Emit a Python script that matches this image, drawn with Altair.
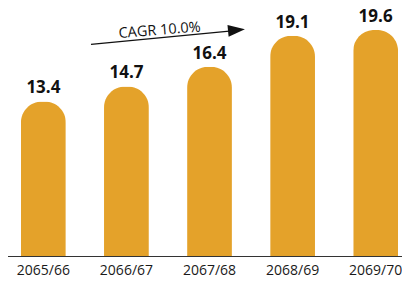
import altair as alt
import pandas as pd

years = ["2065/66", "2066/67", "2067/68", "2068/69", "2069/70"]
values = [13.4, 14.7, 16.4, 19.1, 19.6]
cagr_label = ["CAGR 10.0%"]

df = pd.DataFrame({"year": years, "value": values})

x = alt.X("year:N", sort=years,
          scale=alt.Scale(range=[-1, 404], paddingInner=0.46, paddingOuter=0.168),
          axis=alt.Axis(title=None, labelAngle=0, ticks=False, labelPadding=7,
                        labelFont="Open Sans", labelFontSize=14, labelColor="#1a1a1a",
                        domainColor="#333333", domainWidth=1.2))
y = alt.Y("value:Q", scale=alt.Scale(domain=[0, 21.07], nice=False, zero=True), axis=None)

bars = alt.Chart(df).mark_bar(color="#E4A22A", cornerRadiusTopLeft=21,
                              cornerRadiusTopRight=21).encode(x=x, y=y)

labels = alt.Chart(df).mark_text(font="Open Sans", fontWeight="bold", fontSize=17,
                                 baseline="alphabetic", dy=-8, color="#111111").encode(
    x=x, y=y, text=alt.Text("value:Q", format=".1f"))

ann = pd.DataFrame({"t": cagr_label})
arrow_line = alt.Chart(ann).mark_rule(color="#111111", strokeWidth=1.3).encode(
    x=alt.value(83), y=alt.value(31.3), x2=alt.value(224), y2=alt.value(17.8))
arrow_head = alt.Chart(ann).mark_point(shape="M -1 -0.7 L 1 0 L -1 0.7 Z", filled=True,
                                       opacity=1, color="#111111", size=289,
                                       angle=354.5).encode(
    x=alt.value(228.5), y=alt.value(17))
cagr_text = alt.Chart(ann).mark_text(font="Open Sans", fontSize=14.5, angle=355.5,
                                     baseline="alphabetic", align="center",
                                     color="#111111").encode(
    x=alt.value(152), y=alt.value(21.7), text="t:N")

chart = alt.layer(bars, labels, arrow_line, arrow_head, cagr_text).properties(
    width=394, height=243,
    autosize=alt.AutoSizeParams(type="none"),
    padding={"left": 0, "top": 5, "right": 0, "bottom": 21}
).configure_view(stroke=None)

chart.save("out.html", embed_options={"renderer": "svg", "actions": False})
